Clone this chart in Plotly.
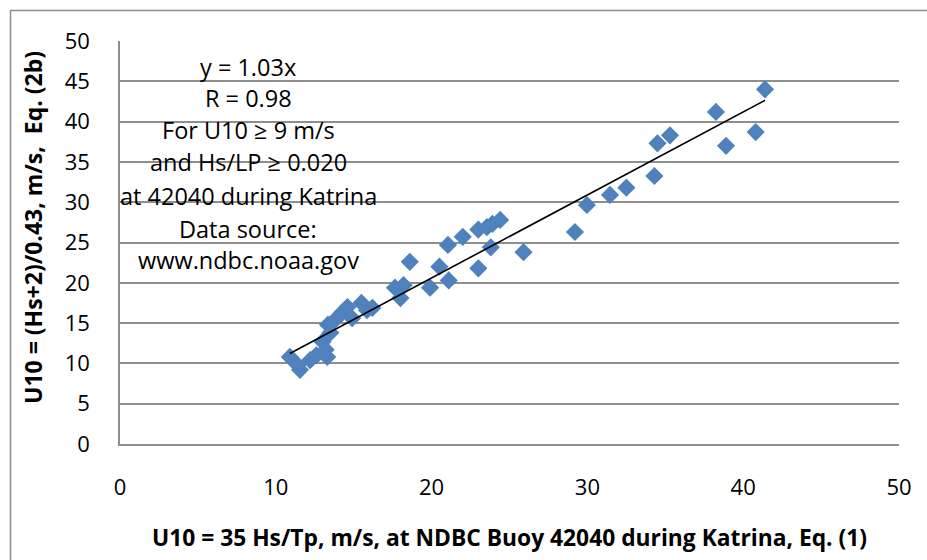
import plotly.graph_objects as go

# Data
u10_eq1 = [10.9, 11.55, 11.4, 12.2, 12.6, 13.2, 13.3, 13.0, 13.5, 13.35, 13.8, 14.3, 14.6,
           14.9, 15.5, 15.85, 16.2, 17.65, 18.0, 18.2, 18.6, 19.9, 20.5, 21.05, 21.1,
           22.0, 23.0, 23.0, 23.55, 23.8, 23.9, 24.4, 25.9, 29.2, 29.97, 31.45, 32.5,
           34.3, 34.5, 35.3, 38.25, 38.9, 40.8, 41.4]
u10_eq2b = [10.8, 9.2, 9.8, 10.4, 11.0, 11.7, 10.8, 12.7, 13.8, 14.8, 15.4, 16.4, 17.0,
            15.6, 17.5, 16.6, 16.9, 19.4, 18.1, 19.7, 22.6, 19.4, 22.0, 24.7, 20.3,
            25.7, 21.8, 26.6, 26.9, 24.4, 27.3, 27.8, 23.8, 26.3, 29.65, 30.9, 31.8,
            33.25, 37.3, 38.3, 41.2, 37.0, 38.7, 44.0]
trend_slope = 1.03
x_ticks = [0, 10, 20, 30, 40, 50]
y_ticks = [0, 5, 10, 15, 20, 25, 30, 35, 40, 45, 50]
note_lines = ["y = 1.03x", "R = 0.98", "For U10 ≥ 9 m/s", "and Hs/LP ≥ 0.020",
              "at 42040 during Katrina", "Data source:", "www.ndbc.noaa.gov"]
x_title = "U10 = 35 Hs/Tp, m/s, at NDBC Buoy 42040 during Katrina, Eq. (1)"
y_title = "U10 = (Hs+2)/0.43, m/s,&nbsp; Eq. (2b)"

FONT = "Open Sans"
GRID = "#8e8e8e"
BLUE = "#4F81BD"

fig = go.Figure()
fig.add_trace(go.Scatter(
    x=u10_eq1, y=u10_eq2b, mode="markers",
    marker=dict(symbol="diamond", size=14, color=BLUE, line=dict(width=0)),
    showlegend=False, hoverinfo="x+y"))

tx = [min(u10_eq1), max(u10_eq1)]
fig.add_trace(go.Scatter(
    x=tx, y=[trend_slope * v for v in tx], mode="lines",
    line=dict(color="black", width=1.6), showlegend=False, hoverinfo="skip"))

W, H = 927, 560
L, R, T, B = 120, 28, 41, 116
pw, ph = W - L - R, H - T - B

def px_to_paper_x(px):
    return (px - L) / pw

def px_to_paper_y(py):
    return (H - B - py) / ph

line_y_px = [67, 98, 130, 162, 196, 229, 260]
annotations = []
for txt, ypx in zip(note_lines, line_y_px):
    annotations.append(dict(
        text=txt, xref="paper", yref="paper",
        x=px_to_paper_x(248), y=px_to_paper_y(ypx),
        xanchor="center", yanchor="middle", showarrow=False,
        font=dict(family=FONT, size=23.5, color="black")))

annotations.append(dict(
    text="<b>" + x_title + "</b>", xref="paper", yref="paper",
    x=px_to_paper_x(509), y=px_to_paper_y(537), xanchor="center", yanchor="middle",
    showarrow=False, font=dict(family=FONT, size=22.8, color="black")))
annotations.append(dict(
    text="<b>" + y_title + "</b>", xref="paper", yref="paper",
    x=px_to_paper_x(33), y=px_to_paper_y(228), xanchor="center", yanchor="middle",
    textangle=-90, showarrow=False, font=dict(family=FONT, size=23, color="black")))

fig.update_layout(
    width=W, height=H,
    margin=dict(l=L, r=R, t=T, b=B, pad=0),
    paper_bgcolor="white", plot_bgcolor="white",
    annotations=annotations,
    shapes=[dict(type="rect", xref="paper", yref="paper",
                 x0=px_to_paper_x(10.5), x1=px_to_paper_x(960),
                 y0=px_to_paper_y(600), y1=px_to_paper_y(10.5),
                 line=dict(color="#8c8c8c", width=1.5), layer="below")],
    xaxis=dict(range=[0, 50], tickvals=x_ticks, showgrid=False, zeroline=False,
               showline=True, linecolor=GRID, linewidth=1.5,
               ticks="outside", ticklen=23, tickcolor="rgba(0,0,0,0)",
               tickfont=dict(family=FONT, size=22, color="black")),
    yaxis=dict(range=[0, 50], tickvals=y_ticks, showgrid=True, gridcolor=GRID,
               gridwidth=1.5, zeroline=False,
               showline=True, linecolor=GRID, linewidth=1.5,
               ticks="outside", ticklen=24, tickcolor="rgba(0,0,0,0)",
               tickfont=dict(family=FONT, size=22, color="black")),
)

fig.write_html("out.html")
